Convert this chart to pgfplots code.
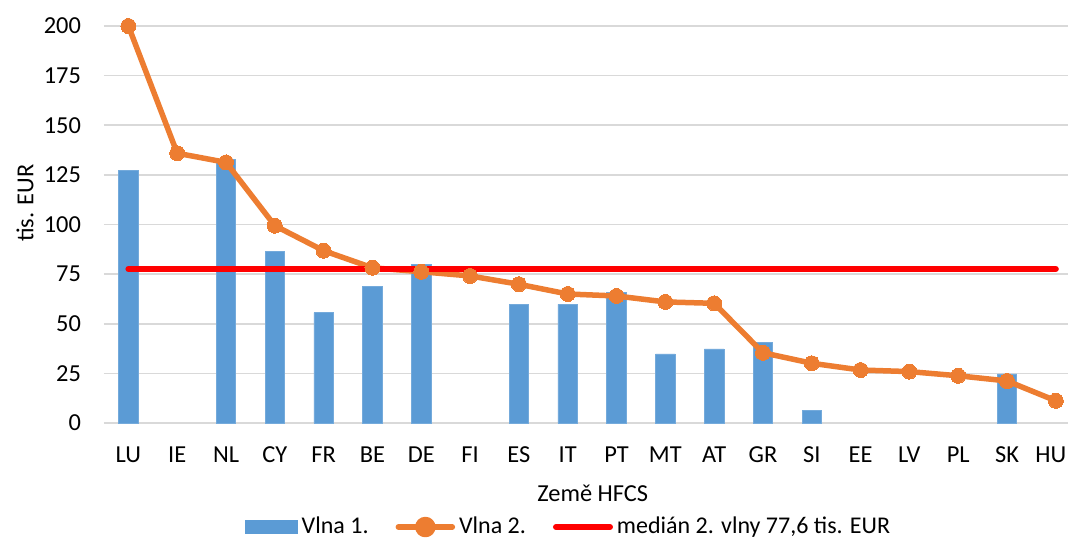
\documentclass[border=0pt]{standalone}
\usepackage{fontspec}
\setmainfont{Carlito}
\usepackage{pgfplots}
\pgfplotsset{compat=1.18}
\definecolor{barblue}{HTML}{5B9BD5}
\definecolor{lineorange}{HTML}{ED7D31}
\definecolor{gridgray}{HTML}{D9D9D9}
\begin{document}
\begin{tikzpicture}
\begin{axis}[
  at={(0,0)}, anchor=south west,
  scale only axis, width=482pt, height=198.5pt,
  xmin=-0.5, xmax=19.25, ymin=0, ymax=200,
  xtick={0,...,19},
  xticklabels={LU,IE,NL,CY,FR,BE,DE,FI,ES,IT,PT,MT,AT,GR,SI,EE,LV,PL,SK,\hspace*{-5pt}HU},
  ytick={0,25,...,200},
  ymajorgrids, grid style={gridgray, line width=0.85pt},
  axis line style={draw=none},
  major tick length=0pt,
  tick label style={font=\fontsize{12.2}{14}\selectfont},
  /pgf/number format/assume math mode=true,
  xticklabel style={anchor=base, yshift=-19.5pt},
  yticklabel style={xshift=-8pt},
  xlabel={Země HFCS},
  xlabel style={at={(axis description cs:0.507,-0.176)}, anchor=center, font=\fontsize{12.2}{14}\selectfont},
  ylabel={tis. EUR},
  ylabel style={at={(axis description cs:-0.082,0.554)}, anchor=center, rotate=0, font=\fontsize{12.2}{14}\selectfont},
  clip=false,
  legend columns=3,
  legend style={at={(axis description cs:0.483,-0.262)}, anchor=center, draw=none, fill=none,
    font=\fontsize{12}{14}\selectfont, inner sep=0pt,
    /tikz/every even column/.append style={column sep=11.5pt}},
  legend cell align=left,
]
\addplot[ybar, bar width=9.75pt, bar shift=0pt, fill=barblue, draw=barblue!85!white, line width=0.3pt,
  legend image code/.code={\fill[barblue] (0pt,-3.25pt) rectangle (26pt,3.25pt);}]
  coordinates {(0,127.1) (2,132.8) (3,86.3) (4,55.6) (5,69.0) (6,79.8) (8,59.8) (9,59.8) (10,65.8) (11,34.8) (12,37.3) (13,40.8) (14,6.4) (18,24.7)};
\addlegendentry{Vlna 1.}
\addplot[lineorange, line width=2.75pt, line join=round, mark=*, mark size=3.75pt, mark options={fill=lineorange, draw=lineorange, line width=0pt},
  legend image code/.code={\draw[lineorange, line width=2.75pt, line cap=round] (0pt,0pt) -- (27pt,0pt); \fill[lineorange] (13.5pt,0pt) circle (3.75pt);}]
  coordinates {(0,200) (1,135.9) (2,131.3) (3,99.4) (4,86.8) (5,78.2) (6,76.2) (7,74.1) (8,69.9) (9,65.0) (10,64.0) (11,61.0) (12,60.3) (13,35.4) (14,30.1) (15,26.7) (16,25.9) (17,23.8) (18,21.2) (19,11.2)};
\addlegendentry{Vlna 2.}
\addplot[red, line width=3pt, line cap=round, mark=none,
  legend image code/.code={\draw[red, line width=3pt, line cap=round] (0pt,0pt) -- (27pt,0pt);}]
  coordinates {(0,77.6) (1,77.6) (2,77.6) (3,77.6) (4,77.6) (5,77.6) (6,77.6) (7,77.6) (8,77.6) (9,77.6) (10,77.6) (11,77.6) (12,77.6) (13,77.6) (14,77.6) (15,77.6) (16,77.6) (17,77.6) (18,77.6) (19,77.6)};
\addlegendentry{medián 2. vlny 77,6 tis. EUR}
\end{axis}
\pgfresetboundingbox
\path[use as bounding box] (-52pt,-57.5pt) rectangle (482pt,211.5pt);
\end{tikzpicture}
\end{document}
